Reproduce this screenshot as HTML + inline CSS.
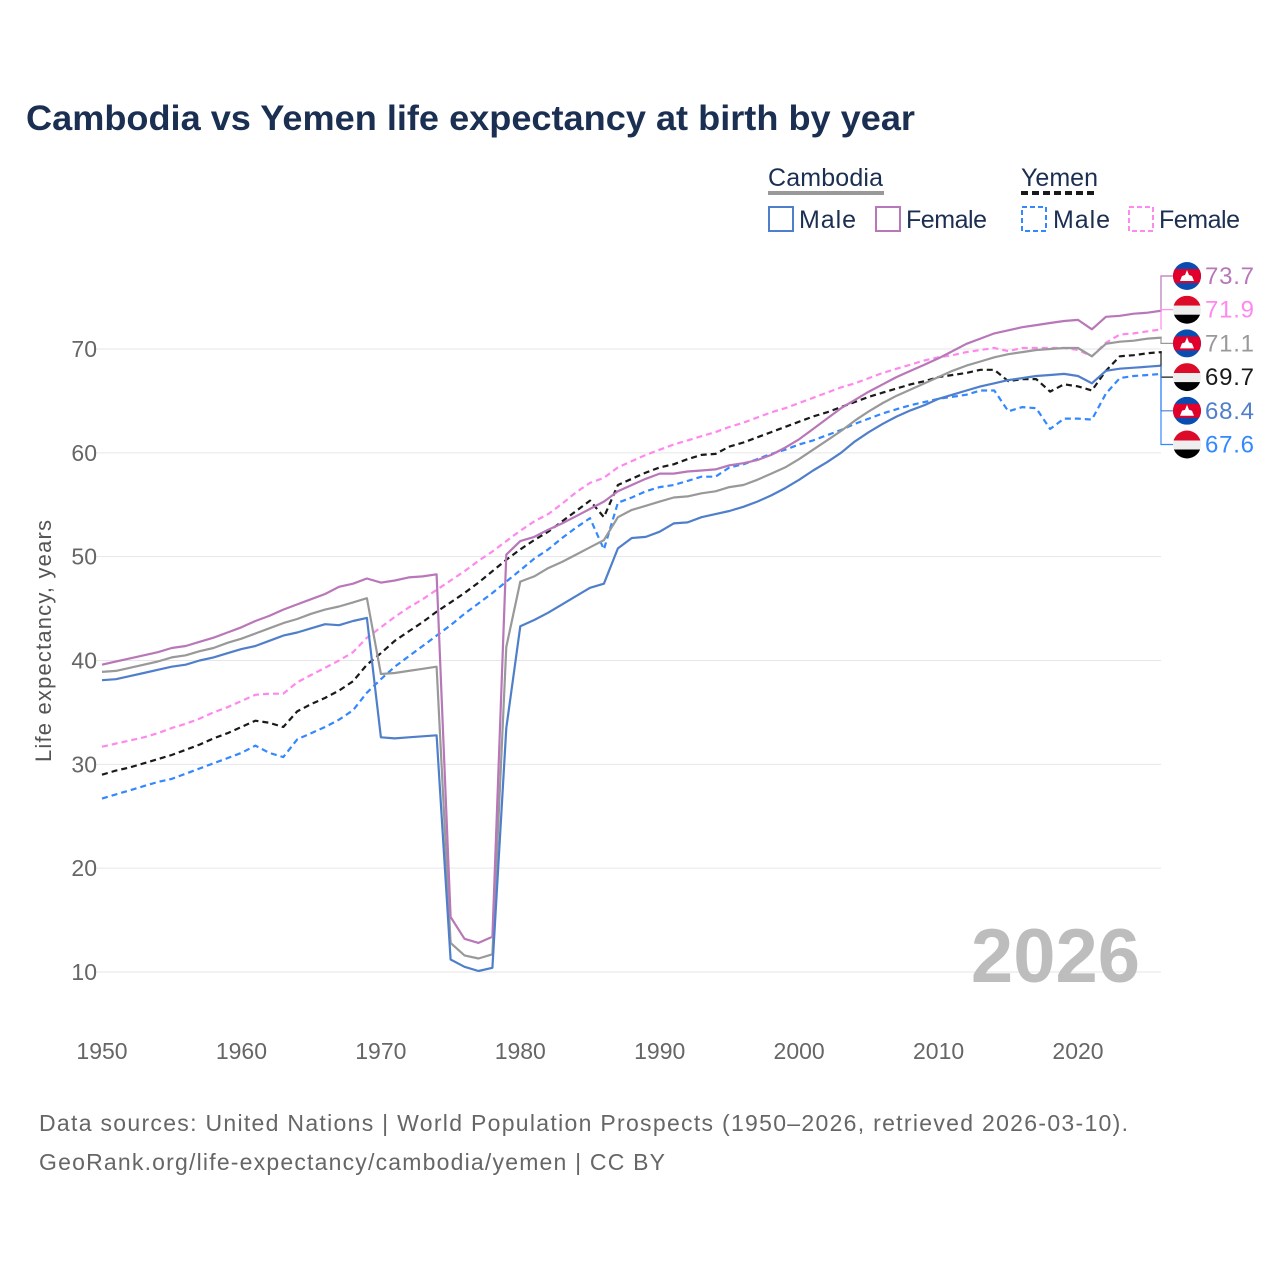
<!DOCTYPE html>
<html><head><meta charset="utf-8"><style>
body{margin:0;background:#fff;font-family:"Liberation Sans",sans-serif}
svg text{font-family:"Liberation Sans",sans-serif}
</style></head><body>
<svg id="chart" width="1280" height="1280" viewBox="0 0 1280 1280" xmlns="http://www.w3.org/2000/svg">
<text x="26" y="130" font-size="35" font-weight="bold" fill="#1b2f52" textLength="889" lengthAdjust="spacingAndGlyphs">Cambodia vs Yemen life expectancy at birth by year</text>
<g id="legend" font-size="25" fill="#1b2f52">
<text x="768" y="186" textLength="115">Cambodia</text>
<line x1="768" y1="193" x2="884" y2="193" stroke="#999" stroke-width="4"/>
<text x="1021" y="186" textLength="77">Yemen</text>
<line x1="1021" y1="193" x2="1098" y2="193" stroke="#1a1a1a" stroke-width="4" stroke-dasharray="7,4"/>
<g><rect x="769" y="207" width="24" height="24" fill="none" stroke="#4f7fca" stroke-width="2"/><text x="799" y="228" textLength="57">Male</text></g>
<g><rect x="876" y="207" width="24" height="24" fill="none" stroke="#b877b8" stroke-width="2"/><text x="906" y="228" textLength="81">Female</text></g>
<g><rect x="1022" y="207" width="24" height="24" fill="none" stroke="#3388ff" stroke-width="2" stroke-dasharray="5,3"/><text x="1053" y="228" textLength="57">Male</text></g>
<g><rect x="1129" y="207" width="24" height="24" fill="none" stroke="#ff88ee" stroke-width="2" stroke-dasharray="5,3"/><text x="1159" y="228" textLength="81">Female</text></g>
</g>
<g id="grid"></g>
<text x="1140" y="982" font-size="76" font-weight="bold" fill="#bdbdbd" text-anchor="end">2026</text>
<g id="series"></g>
<g id="labels"></g>
<text transform="translate(51,641) rotate(-90)" font-size="22" fill="#555" text-anchor="middle" textLength="242">Life expectancy, years</text>
<text x="39" y="1131" font-size="23" fill="#666" textLength="1089">Data sources: United Nations | World Population Prospects (1950–2026, retrieved 2026-03-10).</text>
<text x="39" y="1170" font-size="23" fill="#666" textLength="626">GeoRank.org/life-expectancy/cambodia/yemen | CC BY</text>
</svg>
<script>
const startYear = 1950;
const xTicks = [1950,1960,1970,1980,1990,2000,2010,2020];
const yTicks = [10,20,30,40,50,60,70];
const cambodiaMale = [38.1,38.2,38.5,38.8,39.1,39.4,39.6,40.0,40.3,40.7,41.1,41.4,41.9,42.4,42.7,43.1,43.5,43.4,43.8,44.1,32.6,32.5,32.6,32.7,32.8,11.2,10.5,10.1,10.4,33.5,43.3,43.9,44.6,45.4,46.2,47.0,47.4,50.8,51.8,51.9,52.4,53.2,53.3,53.8,54.1,54.4,54.8,55.3,55.9,56.6,57.4,58.3,59.1,60.0,61.1,62.0,62.8,63.5,64.1,64.6,65.2,65.6,66.0,66.4,66.7,67.0,67.2,67.4,67.5,67.6,67.4,66.7,67.9,68.1,68.2,68.3,68.4];
const cambodiaFemale = [39.6,39.9,40.2,40.5,40.8,41.2,41.4,41.8,42.2,42.7,43.2,43.8,44.3,44.9,45.4,45.9,46.4,47.1,47.4,47.9,47.5,47.7,48.0,48.1,48.3,15.3,13.2,12.8,13.4,50.2,51.5,51.9,52.6,53.2,53.9,54.6,55.3,56.3,56.9,57.5,58.0,58.0,58.2,58.3,58.4,58.8,59.0,59.3,59.8,60.5,61.3,62.3,63.3,64.3,65.1,65.9,66.6,67.3,67.9,68.5,69.1,69.8,70.5,71.0,71.5,71.8,72.1,72.3,72.5,72.7,72.8,71.9,73.1,73.2,73.4,73.5,73.7];
const cambodiaBoth = [38.9,39.0,39.3,39.6,39.9,40.3,40.5,40.9,41.2,41.7,42.1,42.6,43.1,43.6,44.0,44.5,44.9,45.2,45.6,46.0,38.7,38.8,39.0,39.2,39.4,12.8,11.6,11.3,11.7,41.3,47.6,48.1,48.9,49.5,50.2,50.9,51.6,53.8,54.5,54.9,55.3,55.7,55.8,56.1,56.3,56.7,56.9,57.4,58.0,58.6,59.4,60.3,61.2,62.1,63.1,64.0,64.8,65.5,66.1,66.7,67.3,67.9,68.4,68.8,69.2,69.5,69.7,69.9,70.0,70.1,70.1,69.3,70.5,70.7,70.8,71.0,71.1];
const yemenBoth = [29.0,29.4,29.7,30.1,30.5,30.9,31.4,31.9,32.5,33.0,33.6,34.2,34.0,33.6,35.1,35.8,36.4,37.1,38.0,39.6,40.7,41.9,42.8,43.7,44.7,45.6,46.5,47.5,48.6,49.7,50.7,51.6,52.4,53.4,54.4,55.4,53.8,56.9,57.5,58.1,58.6,58.9,59.4,59.8,59.9,60.6,61.0,61.5,62.0,62.5,63.0,63.5,63.9,64.4,64.9,65.4,65.8,66.2,66.6,66.9,67.3,67.5,67.7,68.0,68.0,66.9,67.1,67.1,65.9,66.6,66.4,66.0,67.9,69.3,69.4,69.6,69.7];
const yemenFemale = [31.7,32.0,32.3,32.6,33.0,33.5,33.9,34.4,35.0,35.5,36.1,36.7,36.8,36.8,37.9,38.6,39.3,40.0,40.8,42.2,43.2,44.2,45.1,45.9,46.8,47.7,48.6,49.6,50.5,51.5,52.5,53.4,54.1,55.1,56.2,57.1,57.6,58.6,59.2,59.8,60.3,60.8,61.2,61.6,62.0,62.5,62.9,63.4,63.9,64.3,64.8,65.3,65.8,66.3,66.7,67.2,67.7,68.1,68.5,68.9,69.2,69.4,69.7,69.9,70.1,69.8,70.1,70.1,70.1,70.1,69.9,69.3,70.6,71.4,71.5,71.7,71.9];
const yemenMale = [26.7,27.1,27.5,27.9,28.3,28.6,29.1,29.6,30.1,30.6,31.1,31.8,31.1,30.7,32.4,33.0,33.6,34.3,35.2,36.9,38.2,39.4,40.4,41.4,42.4,43.4,44.5,45.5,46.5,47.6,48.7,49.8,50.7,51.8,52.8,53.7,50.7,55.2,55.7,56.3,56.7,56.9,57.3,57.7,57.7,58.6,58.9,59.4,59.9,60.3,60.8,61.2,61.7,62.2,62.8,63.3,63.8,64.2,64.6,64.9,65.2,65.4,65.6,66.0,66.0,64.0,64.4,64.3,62.3,63.3,63.3,63.2,65.7,67.2,67.4,67.5,67.6];

const NS="http://www.w3.org/2000/svg";
const xScale = yr => 102 + (yr-1950)*(1078-102)/70;
const yScale = v => 972 - (v-10)*(972-349)/60;
function mk(tag, attrs, parent){const e=document.createElementNS(NS,tag);for(const k in attrs)e.setAttribute(k,attrs[k]);parent.appendChild(e);return e;}
const grid=document.getElementById('grid');
yTicks.forEach(t=>{
  const l=mk('line',{x1:95,x2:1161,y1:yScale(t),y2:yScale(t),stroke:'#e6e6e6','stroke-width':1},grid);
  
  
  const tx=mk('text',{x:97,y:yScale(t)+8,'font-size':23,fill:'#666','text-anchor':'end'},grid);
  
  
  tx.textContent=t;
});
xTicks.forEach(t=>{
  const tx=mk('text',{x:xScale(t),y:1059,'font-size':23,fill:'#666','text-anchor':'middle'},grid);
  
  
  tx.textContent=t;
});
const seriesG=document.getElementById('series');
function drawSeries(vals,color,dash,name){
  const d=vals.map((v,i)=>(i?'L':'M')+xScale(startYear+i).toFixed(1)+','+yScale(v).toFixed(1)).join(' ');
  const p=mk('path',{d:d,fill:'none',stroke:color,'stroke-width':2.2,'stroke-linejoin':'round'},seriesG);
  if(dash)p.setAttribute('stroke-dasharray','6,4');
  
  
}
drawSeries(yemenMale,'#3388ff',true,'line-yemen-male');
drawSeries(yemenFemale,'#ff88ee',true,'line-yemen-female');
drawSeries(yemenBoth,'#1a1a1a',true,'line-yemen-both');
drawSeries(cambodiaBoth,'#999999',false,'line-cambodia-both');
drawSeries(cambodiaFemale,'#b877b8',false,'line-cambodia-female');
drawSeries(cambodiaMale,'#4f7fca',false,'line-cambodia-male');

const labelsG=document.getElementById('labels');
const endItems=[
 {v:cambodiaFemale,c:'#b877b8',f:'kh',n:'end-label-cambodia-female'},
 {v:yemenFemale,c:'#ff88ee',f:'ye',n:'end-label-yemen-female'},
 {v:cambodiaBoth,c:'#999999',f:'kh',n:'end-label-cambodia-both'},
 {v:yemenBoth,c:'#1a1a1a',f:'ye',n:'end-label-yemen-both'},
 {v:cambodiaMale,c:'#4f7fca',f:'kh',n:'end-label-cambodia-male'},
 {v:yemenMale,c:'#3388ff',f:'ye',n:'end-label-yemen-male'}];
const ex=xScale(2026);
endItems.forEach((it,i)=>{
  const ly=276+i*33.7;
  const last=it.v[it.v.length-1];
  const g=mk('g',{},labelsG);
  
  
  mk('path',{d:`M${ex},${yScale(last)} H1161 M1161,${yScale(last)} V${ly} H1173`,fill:'none',stroke:it.c,'stroke-width':1.2},g);
  const cx=1187,r=14;
  const clipId='c'+i;
  const cp=mk('clipPath',{id:clipId},g);mk('circle',{cx:cx,cy:ly,r:r},cp);
  const fg=mk('g',{'clip-path':`url(#${clipId})`},g);
  if(it.f==='kh'){
    mk('rect',{x:cx-r,y:ly-r,width:2*r,height:2*r,fill:'#0a4db0'},fg);
    mk('rect',{x:cx-r,y:ly-7,width:2*r,height:14,fill:'#e0002b'},fg);
    mk('path',{d:`M${cx-7},${ly+5} L${cx-5},${ly} L${cx-2},${ly-1} L${cx},${ly-6} L${cx+2},${ly-1} L${cx+5},${ly} L${cx+7},${ly+5} Z`,fill:'#fff'},fg);
  } else {
    mk('rect',{x:cx-r,y:ly-r,width:2*r,height:10,fill:'#dd0b2a'},fg);
    mk('rect',{x:cx-r,y:ly-4,width:2*r,height:9,fill:'#eeeeee'},fg);
    mk('rect',{x:cx-r,y:ly+5,width:2*r,height:10,fill:'#000'},fg);
  }
  const t=mk('text',{x:1205,y:ly+8,'font-size':24,fill:it.c,textLength:49},g);
  t.textContent=last.toFixed(1);
});
</script>
</body></html>
